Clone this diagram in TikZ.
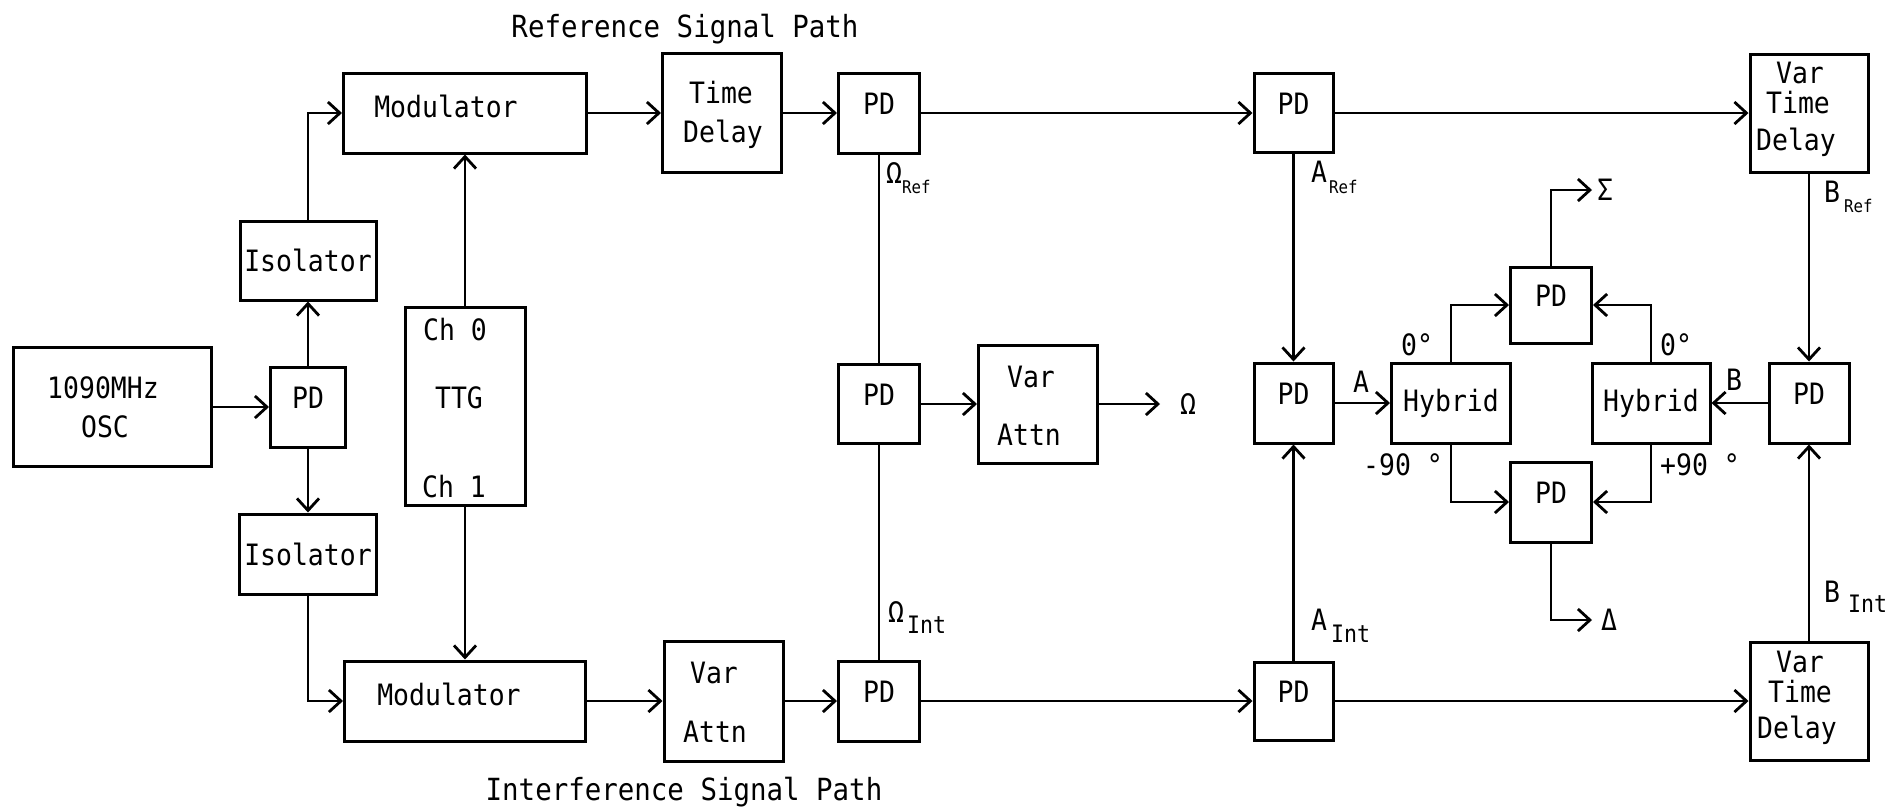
\documentclass[tikz,border=0pt]{standalone}
\usepackage{fontspec}
\newfontfamily\plotfont[FakeStretch=0.9]{DejaVu Sans Mono}
\usetikzlibrary{arrows.meta}
\newcommand\pdup[1]{\raisebox{9pt}[\height][\depth]{#1}}
\begin{document}
\begin{tikzpicture}[x=1pt,y=-1pt,
  box/.style={draw, line width=3pt, inner sep=0pt, font=\plotfont\fontsize{29.4}{32}\selectfont},
  conn/.style={line width=2.8pt},
  arr/.style={conn, -{Straight Barb[length=12pt,width=22pt]}},
  txt/.style={inner sep=0pt, anchor=base, font=\plotfont\fontsize{29.4}{32}\selectfont},
  lab/.style={inner sep=0pt, anchor=base west, font=\plotfont\fontsize{29.4}{32}\selectfont},
  ttl/.style={inner sep=0pt, anchor=base, font=\plotfont\fontsize{30.5}{32}\selectfont},
]
\useasboundingbox (0,0) rectangle (1893,807);

% titles
\node[ttl] (t1) at (685,37) {Reference Signal Path};
\node[ttl] (t2) at (684,800) {Interference Signal Path};

% left part
\node[box,minimum width=198pt,minimum height=119pt] (osc) at (112,407) {};
\node[txt] (osct1) at (103,398) {1090MHz};
\node[txt] (osct2) at (105,437) {OSC};
\node[box,minimum width=75pt,minimum height=80pt] (pd1) at (308,407) {\pdup{PD}};
\node[box,minimum width=136pt,minimum height=79pt] (isoT) at (308,260.5) {Isolator};
\node[box,minimum width=137pt,minimum height=80pt] (isoB) at (308,554) {Isolator};
\node[box,minimum width=243pt,minimum height=80pt] (modT) at (465,113) {};
\node[txt] (modTt) at (446,117) {Modulator};
\node[box,minimum width=241pt,minimum height=80pt] (modB) at (465,701) {};
\node[txt] (modBt) at (449,705) {Modulator};
\node[box,minimum width=120pt,minimum height=198pt] (ttg) at (465,406) {};
\node[txt] (ttg1) at (455,340) {Ch 0};
\node[txt] (ttg2) at (459,408) {TTG};
\node[txt] (ttg3) at (454,497) {Ch 1};

% middle
\node[box,minimum width=119pt,minimum height=119pt] (td) at (722,113) {};
\node[txt] (tdt1) at (721,103) {Time};
\node[txt] (tdt2) at (723,142) {Delay};
\node[box,minimum width=119pt,minimum height=120pt] (va2) at (723.5,701) {};
\node[txt] (va2t1) at (714,683) {Var};
\node[txt] (va2t2) at (715,742) {Attn};
\node[box,minimum width=81pt,minimum height=80pt] (pd2) at (879,113) {\pdup{PD}};
\node[box,minimum width=81pt,minimum height=79pt] (pdM) at (879,404) {\pdup{PD}};
\node[box,minimum width=81pt,minimum height=80pt] (pd4) at (879,701) {\pdup{PD}};
\node[box,minimum width=119pt,minimum height=118pt] (va1) at (1038,404) {};
\node[txt] (va1t1) at (1031,387) {Var};
\node[txt] (va1t2) at (1029,445) {Attn};
\coordinate (om) at (1160,404);
\node[txt,anchor=center] (omt) at (1188,404) {Ω};

% right part
\node[box,minimum width=79pt,minimum height=79pt] (pdAT) at (1293.5,113) {\pdup{PD}};
\node[box,minimum width=79pt,minimum height=80pt] (pdAM) at (1293.5,403) {\pdup{PD}};
\node[box,minimum width=79pt,minimum height=78pt] (pdAB) at (1293.5,701) {\pdup{PD}};
\node[box,minimum width=119pt,minimum height=80pt] (hybL) at (1451,403) {Hybrid};
\node[box,minimum width=118pt,minimum height=80pt] (hybR) at (1651,403) {Hybrid};
\node[box,minimum width=81pt,minimum height=76pt] (pdS) at (1551,305) {\pdup{PD}};
\node[box,minimum width=81pt,minimum height=80pt] (pdD) at (1551,502) {\pdup{PD}};
\node[box,minimum width=80pt,minimum height=80pt] (pdB) at (1809,403) {\pdup{PD}};
\node[box,minimum width=118pt,minimum height=118pt] (vtdT) at (1809,113) {};
\node[txt] (vtdTt1) at (1800,83) {Var};
\node[txt] (vtdTt2) at (1798,113) {Time};
\node[txt] (vtdTt3) at (1796,150) {Delay};
\node[box,minimum width=118pt,minimum height=118pt] (vtdB) at (1809,701) {};
\node[txt] (vtdBt1) at (1800,672) {Var};
\node[txt] (vtdBt2) at (1800,702) {Time};
\node[txt] (vtdBt3) at (1797,738) {Delay};
\coordinate (sig) at (1592,190);
\coordinate (dlt) at (1592,620);
\node[txt,anchor=west] (sigt) at (1597,190) {Σ};
\node[txt,anchor=west] (dltt) at (1601,620) {Δ};

% connectors
\draw[arr] (osc) -- (pd1);
\draw[arr] (pd1) -- (isoT);
\draw[arr] (pd1) -- (isoB);
\draw[arr] (isoT.north) |- (modT.west);
\draw[arr] (isoB.south) |- (modB.west);
\draw[arr] (ttg) -- (modT);
\draw[arr] (ttg) -- (modB);
\draw[arr] (modT) -- (td);
\draw[arr] (td) -- (pd2);
\draw[arr] (pd2) -- (pdAT);
\draw[arr] (pdAT) -- (vtdT);
\draw[arr] (modB) -- (va2);
\draw[arr] (va2) -- (pd4);
\draw[arr] (pd4) -- (pdAB);
\draw[arr] (pdAB) -- (vtdB);
\draw[conn] (pd2) -- (pdM);
\draw[conn] (pd4) -- (pdM);
\draw[arr] (pdM) -- (va1);
\draw[arr] (va1) -- (om);
\draw[arr] (pdAT) -- (pdAM);
\draw[arr] (pdAB) -- (pdAM);
\draw[arr] (pdAM) -- (hybL);
\draw[arr] (pdB) -- (hybR);
\draw[arr] (vtdT) -- (pdB);
\draw[arr] (vtdB) -- (pdB);
\draw[arr] (hybL.north) |- (pdS.west);
\draw[arr] (hybR.north) |- (pdS.east);
\draw[arr] (hybL.south) |- (pdD.west);
\draw[arr] (hybR.south) |- (pdD.east);
\draw[arr] (pdS.north) |- (sig);
\draw[arr] (pdD.south) |- (dlt);

% labels
\node[lab] (lOR) at (886,183) {Ω\raisebox{-10pt}{\fontsize{17.5}{18}\selectfont Ref}};
\node[lab] (lOI) at (888,622) {Ω\raisebox{-11pt}{\fontsize{24}{24}\selectfont\hspace{3pt}Int}};
\node[lab] (lAR) at (1311,182) {A\raisebox{-11pt}{\fontsize{17.5}{18}\selectfont\hspace{2pt}Ref}};
\node[lab] (lAI) at (1311,630) {A\raisebox{-12pt}{\fontsize{24}{24}\selectfont\hspace{4pt}Int}};
\node[lab] (lBR) at (1824,202) {B\raisebox{-10pt}{\fontsize{17.5}{18}\selectfont\hspace{4pt}Ref}};
\node[lab] (lBI) at (1824,602) {B\raisebox{-10pt}{\fontsize{24}{24}\selectfont\hspace{8pt}Int}};
\node[txt] (lA) at (1361,392) {A};
\node[txt] (lB) at (1734,390) {B};
\node[lab] (l0L) at (1401,355) {0°};
\node[lab] (l0R) at (1660,355) {0°};
\node[lab] (l90L) at (1363,475) {-90 °};
\node[lab] (l90R) at (1660,475) {+90 °};
\end{tikzpicture}
\end{document}
